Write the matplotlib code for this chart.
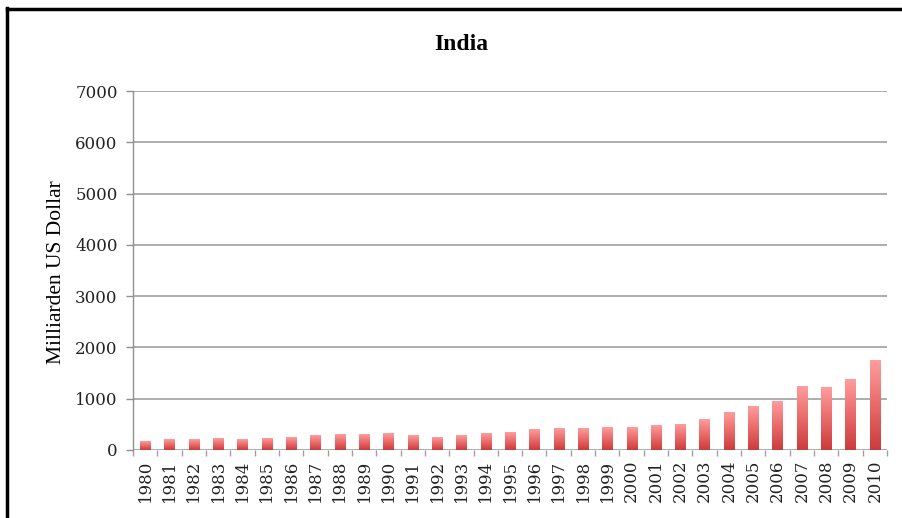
import numpy as np
import matplotlib
matplotlib.use("Agg")
import matplotlib.pyplot as plt
from matplotlib.colors import LinearSegmentedColormap

years = [str(y) for y in range(1980, 2011)]
values = [175, 200, 200, 228, 200, 228, 253, 273, 305, 305, 330, 273, 253, 273, 330,
          350, 403, 423, 423, 448, 448, 474, 500, 598, 727, 851, 949, 1247, 1222, 1378, 1748]
yticks = [0, 1000, 2000, 3000, 4000, 5000, 6000, 7000]

plt.rcParams['font.family'] = ['Liberation Serif', 'DejaVu Serif']

fig = plt.figure(figsize=(9.02, 5.18), dpi=100)
ax = fig.add_axes([133/902, 1-450/518, (887-133)/902, (450-91)/518])

x = np.arange(len(years))
bw = 0.42
bars = ax.bar(x, values, width=bw, color='none', edgecolor='none', zorder=3)

cmap = LinearSegmentedColormap.from_list('g', ['#cc3b3b', '#e96a6a', '#ff9d9d'])
grad = np.linspace(0, 1, 256).reshape(-1, 1)
for b in bars:
    x0, y0 = b.get_x(), b.get_y()
    w, h = b.get_width(), b.get_height()
    ax.imshow(grad, cmap=cmap, origin='lower', aspect='auto',
              extent=(x0, x0 + w, y0, y0 + h), zorder=3)

tickfont = {'family': ['DejaVu Serif'], 'size': 12}
ax.set_xlim(-0.5, len(years) - 0.5)
ax.set_ylim(0, 7000)
ax.set_yticks(yticks)
ax.set_yticklabels([str(t) for t in yticks], fontdict=tickfont, color='#222222')
ax.set_xticks(x)
ax.set_xticklabels(years, rotation=90, fontdict=tickfont, color='#222222')
ax.tick_params(axis='x', length=0, pad=7)
ax.set_xticks(np.arange(-0.5, len(years) + 0.5, 1), minor=True)
ax.tick_params(axis='x', which='minor', length=4, color='#a0a0a0', width=1)
ax.tick_params(axis='y', length=5, color='#909090', width=1, pad=6)

ax.grid(axis='y', color='#a0a0a0', linewidth=1.2, zorder=0)
ax.set_axisbelow(True)
for s in ['top', 'right', 'bottom']:
    ax.spines[s].set_visible(False)
ax.spines['left'].set_color('#909090')
ax.spines['left'].set_linewidth(1)

fig.text(57/902, 1-272/518, 'Milliarden US Dollar', rotation=90, ha='center', va='center',
         fontsize=15.5)
fig.text(461/902, 1-45/518, 'India', ha='center', va='center', fontsize=17, fontweight='bold')

# outer frame (left and top black border)
fig.add_artist(plt.Line2D([7/902, 7/902], [0, 1-8/518], color='black', linewidth=2.5, transform=fig.transFigure))
fig.add_artist(plt.Line2D([7/902, 1], [1-9/518, 1-9/518], color='black', linewidth=2.5, transform=fig.transFigure))

fig.savefig('out.png', dpi=100)
